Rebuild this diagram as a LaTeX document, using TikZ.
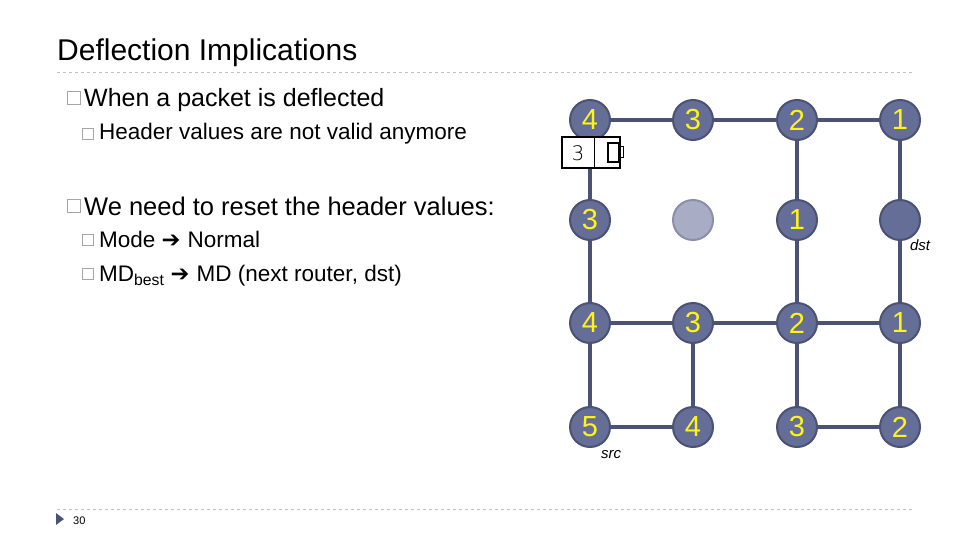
\documentclass[tikz,border=0pt]{standalone}
\usepackage{fontspec}
\setmainfont{Liberation Sans}
\begin{document}
\begin{tikzpicture}[x=1pt,y=-1pt,
 rt/.style={circle,minimum size=40pt,inner sep=0pt,fill=nodefill,draw=nodedraw,line width=2pt,text=yellow!90!white,font=\fontsize{29}{29}\selectfont},
 faded/.style={circle,minimum size=40pt,inner sep=0pt,fill=fadefill,draw=fadedraw,line width=2pt},
 lnk/.style={draw=nodedraw,line width=4pt},
 bul/.style={draw=gray!70,line width=0.8pt},
 dsh/.style={draw=gray!50,dashed,line width=0.6pt}]
\definecolor{nodefill}{HTML}{646E96}
\definecolor{nodedraw}{HTML}{4A5275}
\definecolor{fadefill}{HTML}{A8ACC4}
\definecolor{fadedraw}{HTML}{8A8FA8}
\useasboundingbox (0,0) rectangle (960,540);
% title
\node[anchor=base west,font=\fontsize{30}{30}\selectfont,inner sep=0] (title) at (57,61) {Deflection Implications};
\draw[dsh] (57,72) -- (912,72);
\draw[dsh] (57,509) -- (912,509);
% bullets
\draw[bul] (67,91) rectangle (80,104);
\node[anchor=base west,font=\fontsize{25}{25}\selectfont,inner sep=0] (t1) at (84,107) {When a packet is deflected};
\draw[bul,line width=0.5pt] (82,128) rectangle (93,139);
\node[anchor=base west,font=\fontsize{22.5}{22.5}\selectfont,inner sep=0] (t2) at (99,140) {Header values are not valid anymore};
\draw[bul] (67,199) rectangle (80,212);
\node[anchor=base west,font=\fontsize{25.5}{25.5}\selectfont,inner sep=0] (t3) at (84,215) {We need to reset the header values:};
\draw[bul,line width=0.5pt] (82,234) rectangle (93,245);
\node[anchor=base west,font=\fontsize{22.5}{22.5}\selectfont,inner sep=0] (t4) at (99,247) {Mode \fontspec{DejaVu Sans}\char"2794\ \fontspec{Liberation Sans}Normal};
\draw[bul,line width=0.5pt] (82,268) rectangle (93,279);
\node[anchor=base west,font=\fontsize{22.5}{22.5}\selectfont,inner sep=0] (t5) at (99,281) {MD\textsubscript{best} \fontspec{DejaVu Sans}\char"2794\ \fontspec{Liberation Sans}MD (next router, dst)};
% footer
\fill[nodedraw] (56,513) -- (64,519) -- (56,525) -- cycle;
\node[anchor=base west,font=\fontsize{11}{11}\selectfont,inner sep=0] (pg) at (73,524) {30};
% node positions
\foreach \n/\x/\y in {a1/590/120,a2/693/120,a3/797/120,a4/900/120,
  b1/590/220,b2/693/220,b3/797/220,b4/900/220,
  c1/590/323,c2/693/323,c3/797/323,c4/900/323,
  d1/590/427,d2/693/427,d3/797/427,d4/900/427}
  \path (\x,\y) coordinate (p\n);
\draw[lnk] (pa1) -- (pa4);
\draw[lnk] (pc1) -- (pc4);
\draw[lnk] (pd1) -- (pd2);
\draw[lnk] (pd3) -- (pd4);
\draw[lnk] (pa1) -- (pd1);
\draw[lnk] (pa3) -- (pd3);
\draw[lnk] (pa4) -- (pd4);
\draw[lnk] (pc2) -- (pd2);
\foreach \n/\l in {a1/4,a2/3,a3/2,a4/1,b1/3,b3/1,c1/4,c2/3,c3/2,c4/1,d1/5,d2/4,d3/3,d4/2}
  \node[rt] (\n) at (p\n) {\l};
\node[faded] (b2) at (pb2) {};
\node[rt] (b4) at (pb4) {};
% header box
\draw[fill=white,line width=1.5pt] (562,137) rectangle (620,168);
\draw[line width=1pt] (594,137) -- (594,168);
\node[font=\fontsize{20}{20}\selectfont\fontspec{DejaVu Sans ExtraLight},inner sep=0] (h1) at (578,153) {3};
\draw[line width=1.3pt] (608,143) rectangle (619,162);
\draw[line width=1pt] (619,147) -- (623,147) -- (623,158) -- (619,158);
% labels
\node[font=\fontsize{15}{15}\selectfont\itshape,inner sep=0] (dst) at (920,245) {dst};
\node[font=\fontsize{15}{15}\selectfont\itshape,inner sep=0] (src) at (611,455) {src};
\end{tikzpicture}
\end{document}
